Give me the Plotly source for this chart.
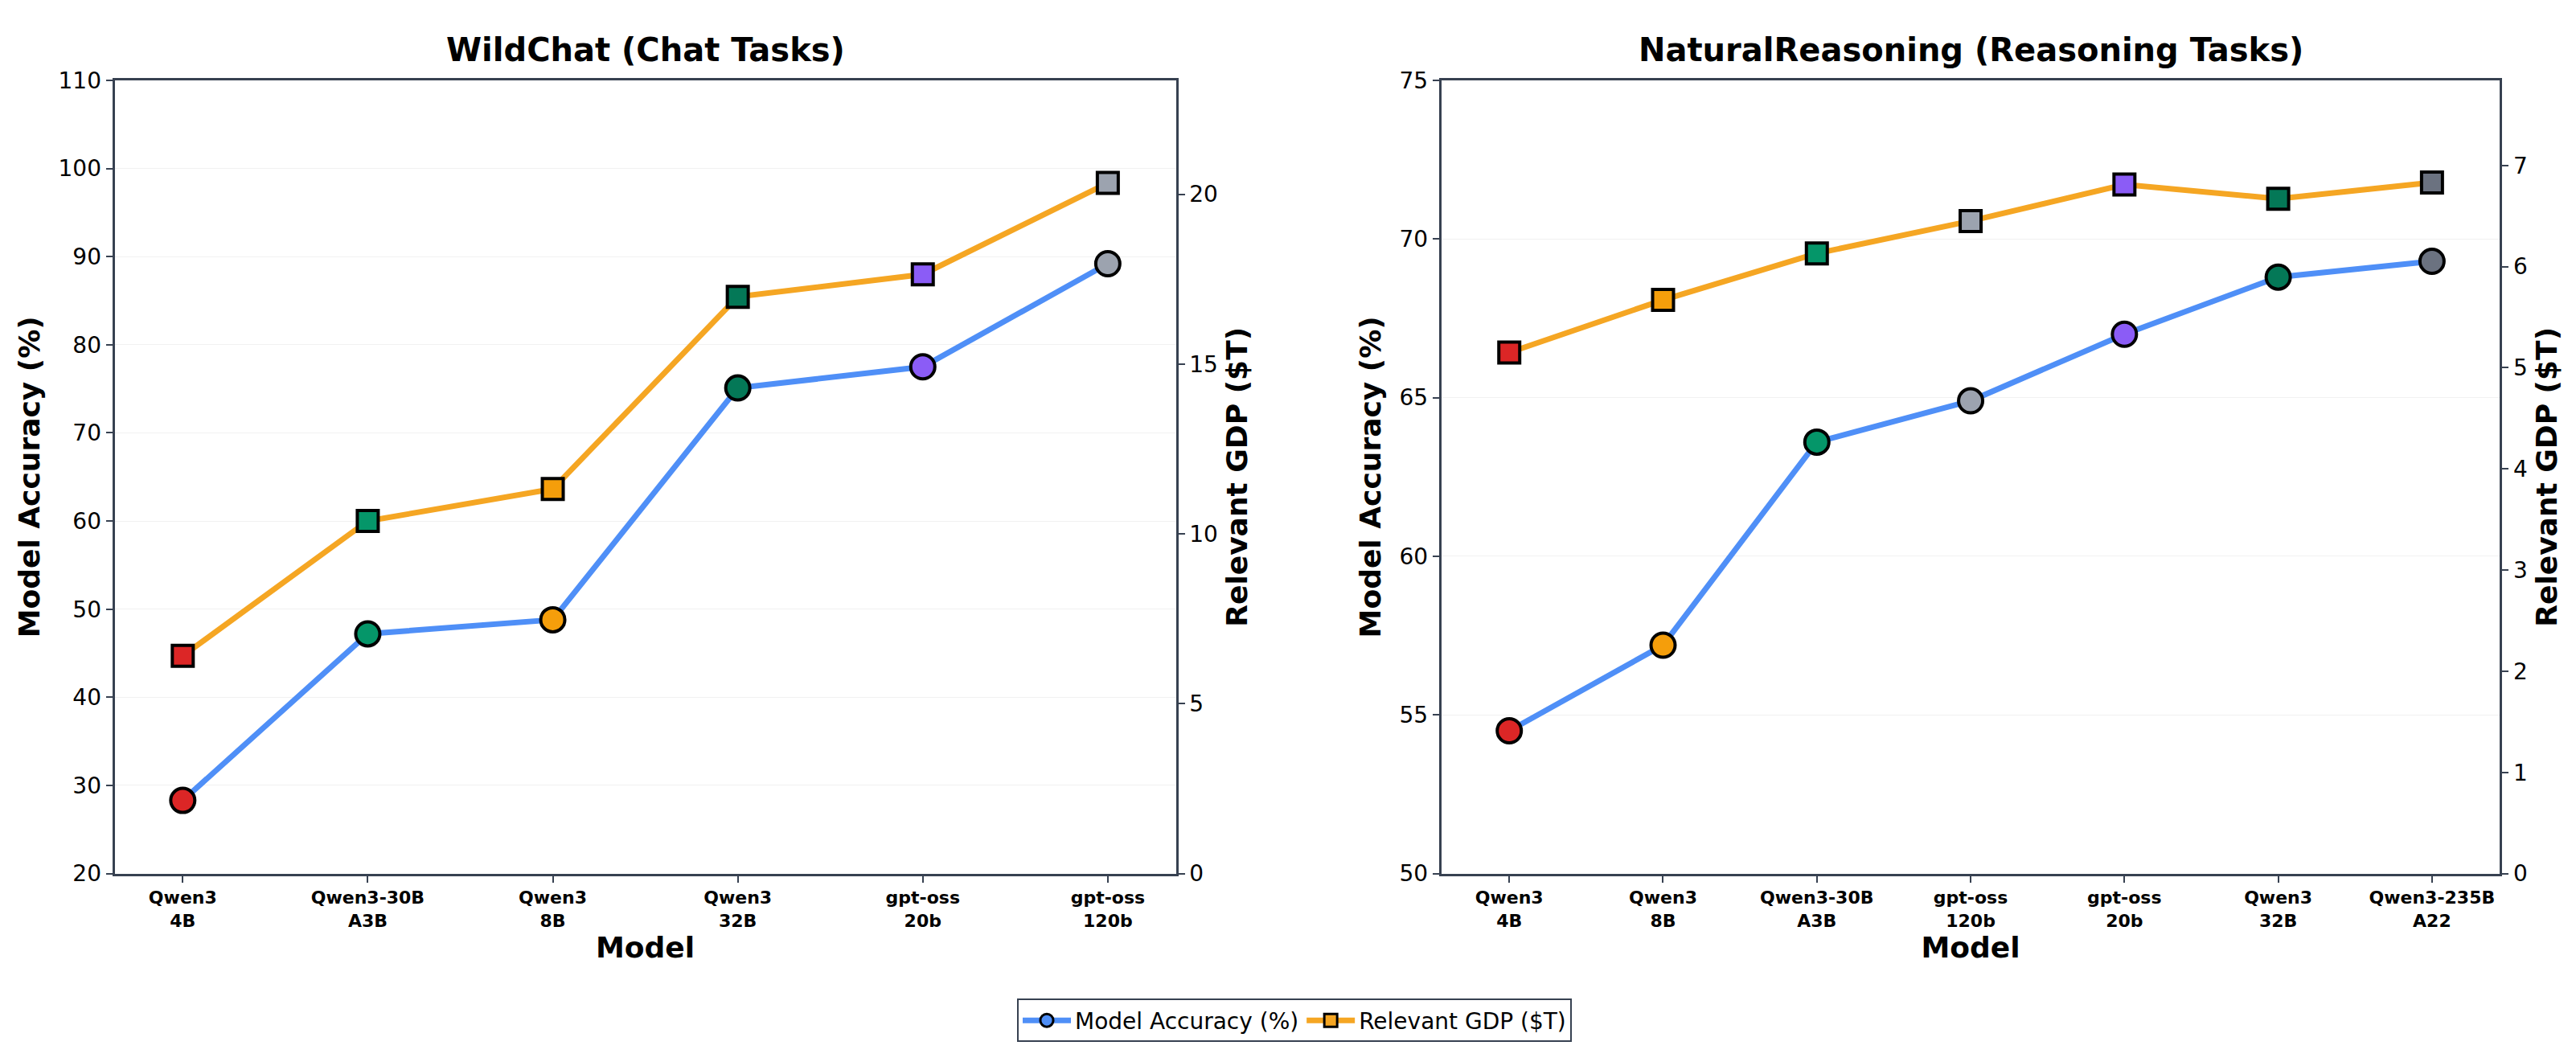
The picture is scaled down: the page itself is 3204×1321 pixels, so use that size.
import plotly.graph_objects as go

wc_models = ["Qwen3<br>4B", "Qwen3-30B<br>A3B", "Qwen3<br>8B", "Qwen3<br>32B", "gpt-oss<br>20b", "gpt-oss<br>120b"]
wc_acc = [28.3, 47.2, 48.8, 75.1, 77.5, 89.2]
wc_gdp = [6.41, 10.38, 11.32, 16.98, 17.64, 20.33]
wc_colors = ["#dc2626", "#059669", "#f59e0b", "#047857", "#8b5cf6", "#9ca3af"]

nr_models = ["Qwen3<br>4B", "Qwen3<br>8B", "Qwen3-30B<br>A3B", "gpt-oss<br>120b", "gpt-oss<br>20b", "Qwen3<br>32B", "Qwen3-235B<br>A22"]
nr_acc = [54.5, 57.2, 63.6, 64.9, 67.0, 68.8, 69.3]
nr_gdp = [5.15, 5.67, 6.13, 6.45, 6.81, 6.67, 6.83]
nr_colors = ["#dc2626", "#f59e0b", "#059669", "#9ca3af", "#8b5cf6", "#047857", "#6b7280"]

BLUE = "#4f8ff7"
ORANGE = "#f5a623"
FONT = "DejaVu Sans"
AX = "#374151"

fig = go.Figure()

def add(models, acc, gdp, colors, xa, ya, ya2):
    fig.add_trace(go.Scatter(x=models, y=gdp, xaxis=xa, yaxis=ya2, mode="lines+markers",
                             line=dict(color=ORANGE, width=7),
                             marker=dict(symbol="square", size=26, color=colors, line=dict(color="black", width=4)),
                             showlegend=False))
    fig.add_trace(go.Scatter(x=models, y=acc, xaxis=xa, yaxis=ya, mode="lines+markers",
                             line=dict(color=BLUE, width=7),
                             marker=dict(symbol="circle", size=30, color=colors, line=dict(color="black", width=4)),
                             showlegend=False))

add(wc_models, wc_acc, wc_gdp, wc_colors, "x", "y", "y2")
add(nr_models, nr_acc, nr_gdp, nr_colors, "x2", "y3", "y4")

fig.add_trace(go.Scatter(x=[None], y=[None], mode="lines+markers", name="Model Accuracy (%)",
                         line=dict(color=BLUE, width=7),
                         marker=dict(symbol="circle", size=22, color=BLUE, line=dict(color="black", width=3))))
fig.add_trace(go.Scatter(x=[None], y=[None], mode="lines+markers", name="Relevant GDP ($T)",
                         line=dict(color=ORANGE, width=7),
                         marker=dict(symbol="square", size=22, color=ORANGE, line=dict(color="black", width=3))))

tick = dict(family=FONT, size=28, color="black")
ttl = dict(family=FONT, size=36, color="black")
xbase = dict(type="category", showline=True, linecolor=AX, linewidth=3, mirror=True, ticks="outside",
             ticklen=8, tickwidth=2, tickcolor=AX, showgrid=False,
             tickfont=dict(family=FONT, size=22, color="black", weight="bold"),
             title=dict(text="<b>Model</b>", font=ttl, standoff=10))
ybase = dict(showline=True, linecolor=AX, linewidth=3, ticks="outside", ticklen=8, tickwidth=2,
             tickcolor=AX, tickfont=tick, zeroline=False)

fig.update_layout(
    width=3204, height=1321, paper_bgcolor="white", plot_bgcolor="white",
    margin=dict(l=0, r=0, t=0, b=0),
    font=dict(family=FONT),
    xaxis=dict(xbase, domain=[0.042, 0.454], anchor="y"),
    xaxis2=dict(xbase, domain=[0.557, 0.968], anchor="y3"),
    yaxis=dict(ybase, domain=[0.175, 0.941], range=[20, 110], dtick=10, anchor="x",
               showgrid=True, gridcolor="#f1f1f1", gridwidth=1,
               title=dict(text="<b>Model Accuracy (%)</b>", font=ttl, standoff=12)),
    yaxis2=dict(ybase, overlaying="y", side="right", anchor="x", range=[0, 23.35], dtick=5, showgrid=False,
                title=dict(text="<b>Relevant GDP ($T)</b>", font=ttl, standoff=12)),
    yaxis3=dict(ybase, domain=[0.175, 0.941], range=[50, 75], dtick=5, anchor="x2",
                showgrid=True, gridcolor="#f1f1f1", gridwidth=1,
                title=dict(text="<b>Model Accuracy (%)</b>", font=ttl, standoff=12)),
    yaxis4=dict(ybase, overlaying="y3", side="right", anchor="x2", range=[0, 7.84], dtick=1, showgrid=False,
                title=dict(text="<b>Relevant GDP ($T)</b>", font=ttl, standoff=12)),
    legend=dict(orientation="h", x=0.5, xanchor="center", y=0.033, yanchor="middle",
                bordercolor=AX, borderwidth=2, font=dict(family=FONT, size=28, color="black"),
                itemwidth=60),
    annotations=[
        dict(text="<b>WildChat (Chat Tasks)</b>", x=0.248, y=0.99, xref="paper", yref="paper",
             xanchor="center", yanchor="top", showarrow=False, font=dict(family=FONT, size=40, color="black")),
        dict(text="<b>NaturalReasoning (Reasoning Tasks)</b>", x=0.7625, y=0.99, xref="paper", yref="paper",
             xanchor="center", yanchor="top", showarrow=False, font=dict(family=FONT, size=40, color="black")),
    ],
)

fig.write_html("out.html")
